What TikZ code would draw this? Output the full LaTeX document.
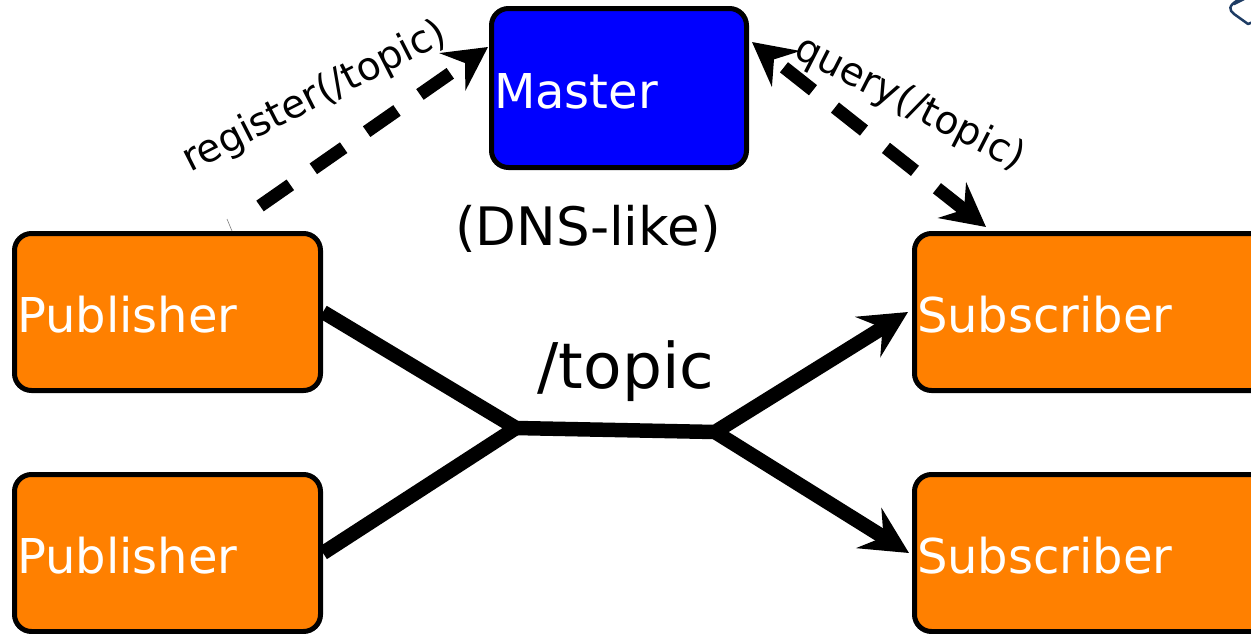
\documentclass[tikz,border=0pt]{standalone}
\usepackage{fontspec}
\setmainfont{DejaVu Sans}
\usetikzlibrary{arrows.meta}
\definecolor{boxorange}{RGB}{255,128,0}
\definecolor{boxblue}{RGB}{0,0,255}
\definecolor{iconblue}{RGB}{30,60,100}
\tikzset{
  box/.style={rectangle, rounded corners=17pt, draw=black, line width=5pt,
    text=white, align=left, inner xsep=2.5pt, inner ysep=0pt,
    text height=40pt, text depth=0pt,
    font=\fontsize{48}{58}\selectfont},
  pubbox/.style={box, fill=boxorange, minimum width=306pt, minimum height=157pt, text width=301pt},
  subbox/.style={box, fill=boxorange, minimum width=360pt, minimum height=157pt, text width=355pt},
  masterbox/.style={box, fill=boxblue, minimum width=255pt, minimum height=159pt, text width=250pt},
  pipe/.style={line width=14.5pt, line join=miter, draw=black},
  bigtip/.style={-{Stealth[length=47pt, width=47pt, inset=17pt]}},
  dasharrow/.style={line width=13pt, dash pattern=on 37pt off 28pt, draw=black},
  smalltip/.tip={Stealth[length=43pt, width=45pt, inset=15pt]},
  edgelabel/.style={font=\fontsize{39}{47}\selectfont, inner sep=0pt},
  biglabel/.style={inner sep=0pt},
}
\begin{document}
\begin{tikzpicture}[x=1pt, y=-1pt]
\clip (0,0) rectangle (1251,633);
\fill[white] (0,0) rectangle (1251,633);

% boxes
\node[masterbox] (master) at (619,88) {Master};
\node[pubbox] (pub1) at (167.5,312) {Publisher};
\node[pubbox] (pub2) at (167.5,553) {Publisher};
\node[subbox] (sub1) at (1094.5,312) {Subscriber};
\node[subbox] (sub2) at (1094.5,553) {Subscriber};

% labels
\node[biglabel, anchor=base, font=\fontsize{53}{60}\selectfont] (dns) at (588,245) {(DNS-like)};
\node[biglabel, anchor=base, font=\fontsize{63}{70}\selectfont] (topic) at (626,388) {/topic};
\node[edgelabel, anchor=base west, rotate=27] (reg) at (190,173) {register(/topic)};
\node[edgelabel, anchor=base west, rotate=-27] (qry) at (792,56) {query(/topic)};

% junctions
\coordinate (j1) at (516,428);
\coordinate (j2) at (715,432);

% topic pipes
\draw[pipe] (pub1.east) -- (j1) -- (pub2.east);
\draw[pipe, bigtip] (j1) -- (j2) -- ([xshift=-4pt]sub1.west);
\draw[pipe, bigtip] (j2) -- ([xshift=-3pt]sub2.west);

% register and query
\draw[dasharrow, -smalltip] ([xshift=92.5pt, yshift=25pt]pub1.north) -- ([xshift=-1pt, yshift=-41pt]master.north west);
\draw[dasharrow, smalltip-smalltip] ([xshift=74pt, yshift=4pt]sub1.north west) -- ([xshift=3pt, yshift=-36pt]master.north east);

% small artifacts
\draw[gray, line width=0.6pt] (227,219) -- (232,231);
\draw[iconblue, line width=2.5pt, line cap=round, line join=round]
  (1238,0) .. controls (1228,6) and (1229,10) .. (1234,14) -- (1248,24) -- (1253,22);
\draw[iconblue, line width=2.5pt, line cap=round] (1234,4) -- (1244,-1);
\end{tikzpicture}
\end{document}
